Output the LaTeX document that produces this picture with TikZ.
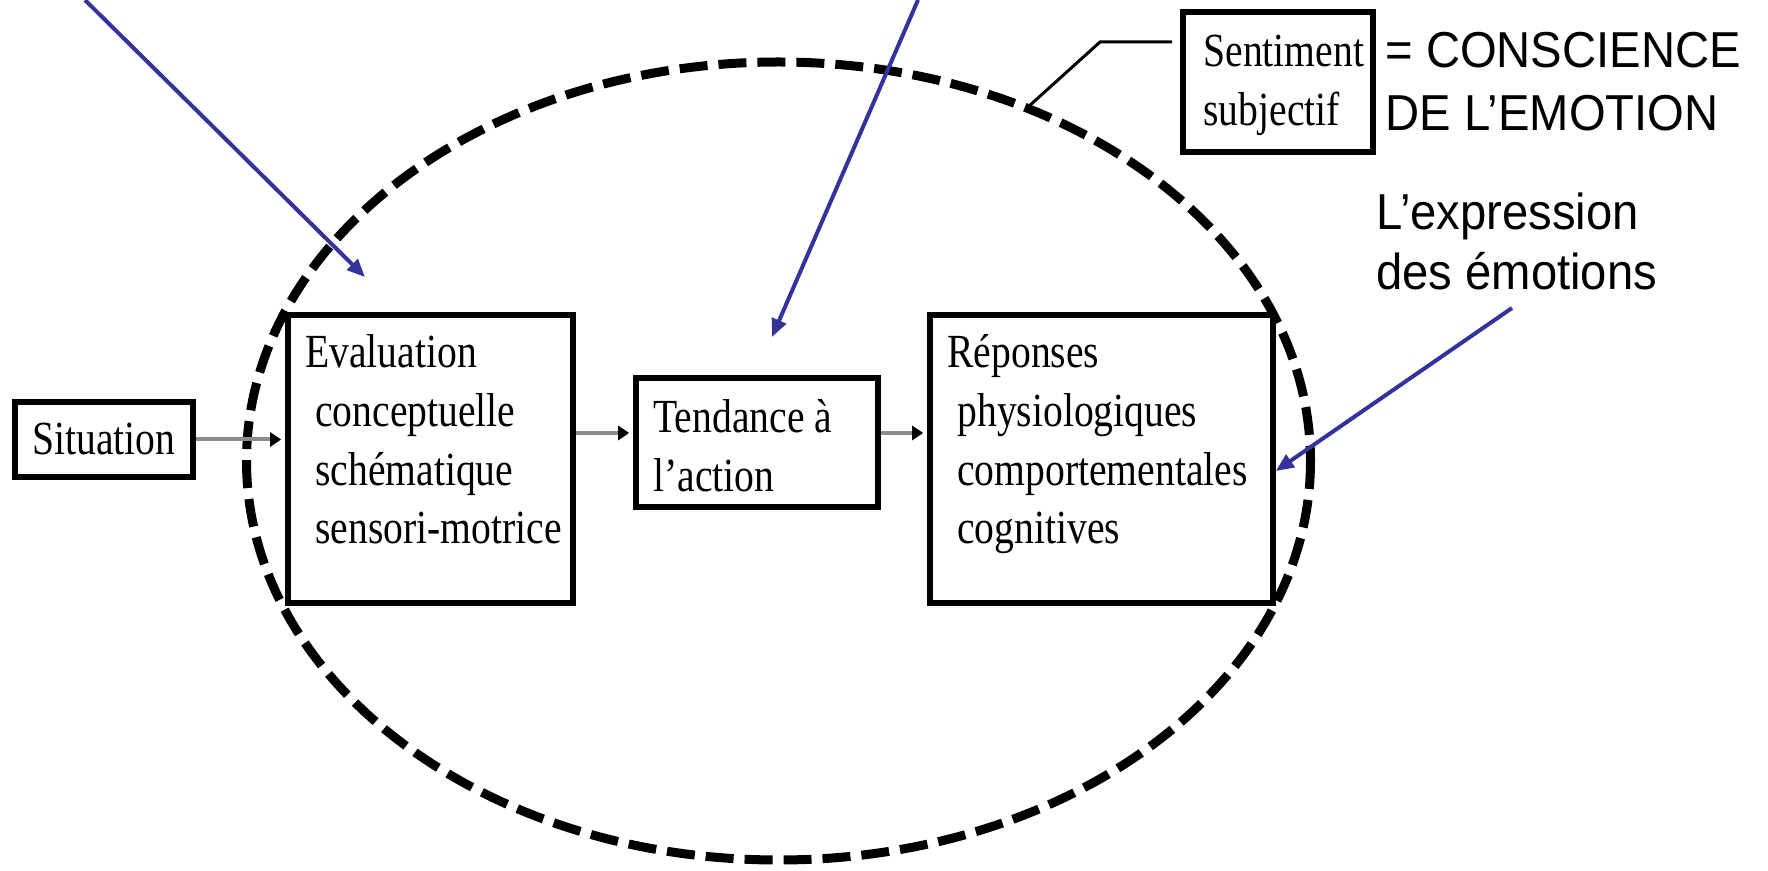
\documentclass[tikz,border=0pt]{standalone}
\usepackage{fontspec}
\setmainfont{Liberation Serif}
\newfontfamily\helv{Liberation Sans}
\usepackage{graphicx}
\usetikzlibrary{arrows.meta,fit,calc}

\definecolor{arrowblue}{RGB}{51,51,153}
\definecolor{flowgray}{RGB}{140,140,140}

% serif labels are set slightly tall; rows 29pt apart after scaling
\newcommand{\serifblock}[1]{\scalebox{1}[1.2]{\fontsize{19.8pt}{24.4pt}\selectfont\begin{tabular}[t]{@{}l@{}}#1\end{tabular}}}
% sans annotations; #1 is the row distance before scaling
\newcommand{\sansblock}[2]{\scalebox{1}[1.07]{\helv\fontsize{23.6pt}{#1}\selectfont\begin{tabular}[t]{@{}l@{}}#2\end{tabular}}}

\tikzset{
  box/.style={draw=black, line width=2.8pt, inner sep=0pt},
  txt/.style={anchor=base west, inner sep=0pt},
  flow/.style={draw=flowgray, line width=2pt,
    -{Triangle[length=5.5pt,width=7pt,color=black]}, shorten >=2pt},
  pointer/.style={draw=arrowblue, line width=2pt,
    -{Triangle[length=9pt,width=7.5pt]}},
  oval/.style={draw=black, line width=4.5pt, dash pattern=on 14pt off 5.5pt},
  link/.style={draw=black, line width=1.5pt}
}

\begin{document}
\begin{tikzpicture}[x=0.5pt, y=-0.5pt]
  \fill[white] (0,0) rectangle (1768,871);
  \useasboundingbox (0,0) rectangle (1768,871);

  % dashed oval around the emotional process
  \draw[oval] (778.5,461) ellipse [x radius=532, y radius=399];

  % boxes
  \node[box, fit={(15,402) (193,477)}] (sit) {};
  \node[box, fit={(288,315) (573,603)}] (eval) {};
  \node[box, fit={(636,378) (878,507)}] (tend) {};
  \node[box, fit={(930,315) (1273,603)}] (rep) {};
  \node[box, fit={(1183,12) (1373,152)}] (sent) {};

  % box texts
  \node[txt] (sittxt) at (32,455) {\serifblock{Situation}};
  \node[txt] (evaltxt) at (305,368) {\serifblock{Evaluation\\\hspace*{5pt}conceptuelle\\\hspace*{5pt}schématique\\\hspace*{5pt}sensori-motrice}};
  \node[txt] (tendtxt) at (653,433) {\serifblock{Tendance à\\l’action}};
  \node[txt] (reptxt) at (947,368) {\serifblock{Réponses\\\hspace*{5pt}physiologiques\\\hspace*{5pt}comportementales\\\hspace*{5pt}cognitives}};
  \node[txt] (senttxt) at (1203,67) {\serifblock{Sentiment\\subjectif}};

  % annotations
  \node[txt] (consc) at (1385,68) {\sansblock{29pt}{= CONSCIENCE\\DE L’EMOTION}};
  \node[txt] (expr) at (1376,230) {\sansblock{28pt}{L’expression\\des émotions}};

  % flow between the stages
  \coordinate (row) at (0,433);
  \draw[flow] (sit.east) -- (eval.west |- sit.east);
  \draw[flow] (eval.east |- row) -- (tend.west |- row);
  \draw[flow] (tend.east |- row) -- (rep.west |- row);

  % link from the feeling box to the oval
  \coordinate (kink) at (1100,42);
  \coordinate (touch) at (1028,107);
  \draw[link, shorten <=4pt] (sent.west |- kink) -- (kink) -- (touch);

  % blue pointers
  \coordinate (p1s) at (85,0);
  \coordinate (p1e) at (365,277);
  \coordinate (p2s) at (918,0);
  \coordinate (p2e) at (772,337);
  \coordinate (p3s) at (1512,308);
  \coordinate (p3y) at (0,471);
  \draw[pointer] (p1s) -- (p1e);
  \draw[pointer] (p2s) -- (p2e);
  \draw[pointer] (p3s) -- (rep.east |- p3y);
\end{tikzpicture}
\end{document}
